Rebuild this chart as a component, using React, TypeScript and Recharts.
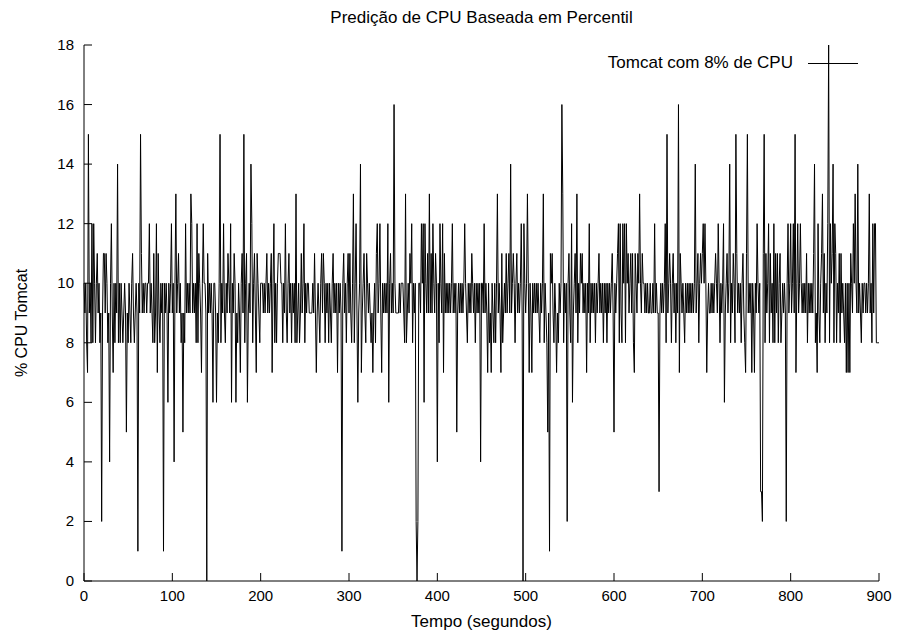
import { LineChart, Line, XAxis, YAxis } from 'recharts';

const W = 897;
const H = 636;
const PLOT = { left: 84, right: 879, top: 45, bottom: 581 };
const FONT = '"Liberation Sans", Arial, Helvetica, sans-serif';
const FS = 15;
const FS_LABEL = 17;
const TICK_LEN = 8;

const title = 'Predição de CPU Baseada em Percentil';
const xLabel = 'Tempo (segundos)';
const yLabel = '% CPU Tomcat';
const seriesName = 'Tomcat com 8% de CPU';

const xTicks = [0, 100, 200, 300, 400, 500, 600, 700, 800, 900];
const yTicks = [0, 2, 4, 6, 8, 10, 12, 14, 16, 18];

// one sample per second, t = 0 .. 900
const cpuTomcat = [
  10, 9, 10, 8, 7, 15, 9, 10, 8, 12, 8, 12, 10, 8, 10, 11, 9, 10, 8, 9,
  2, 9, 11, 11, 9, 11, 10, 8, 9, 4, 10, 12, 9, 7, 10, 8, 10, 9, 14, 8,
  10, 8, 10, 9, 8, 9, 10, 9, 5, 9, 8, 10, 9, 8, 10, 11, 9, 8, 9, 10,
  9, 1, 10, 9, 15, 11, 9, 10, 9, 10, 10, 9, 10, 10, 12, 9, 10, 9, 8, 11,
  8, 9, 12, 7, 11, 9, 8, 10, 9, 10, 1, 10, 9, 10, 9, 6, 10, 9, 10, 12,
  9, 10, 4, 10, 13, 9, 10, 11, 9, 10, 8, 9, 5, 9, 8, 12, 9, 10, 9, 10,
  9, 13, 12, 9, 10, 9, 10, 8, 12, 8, 11, 10, 9, 7, 10, 12, 10, 10, 9, 0,
  11, 9, 10, 9, 10, 9, 6, 10, 10, 9, 6, 9, 8, 10, 15, 8, 10, 9, 12, 9,
  8, 10, 9, 11, 10, 9, 12, 6, 10, 9, 11, 10, 6, 9, 8, 10, 9, 7, 10, 11,
  9, 15, 8, 10, 11, 6, 9, 10, 9, 14, 12, 8, 10, 11, 9, 7, 11, 10, 9, 8,
  10, 10, 10, 9, 10, 9, 10, 11, 9, 10, 9, 10, 11, 7, 10, 12, 8, 10, 8, 10,
  11, 11, 11, 10, 10, 8, 10, 9, 12, 9, 8, 10, 11, 9, 10, 8, 10, 9, 10, 8,
  13, 8, 9, 10, 8, 9, 11, 9, 10, 12, 8, 10, 9, 10, 10, 9, 9, 9, 9, 10,
  9, 11, 9, 7, 9, 10, 9, 8, 10, 11, 9, 11, 10, 8, 10, 9, 10, 8, 10, 9,
  8, 10, 11, 9, 10, 9, 10, 7, 10, 9, 10, 9, 1, 10, 11, 9, 10, 8, 10, 11,
  9, 11, 9, 8, 10, 13, 8, 10, 12, 9, 6, 9, 10, 14, 7, 9, 10, 11, 9, 8,
  11, 10, 9, 10, 9, 8, 9, 7, 9, 10, 8, 11, 12, 9, 10, 12, 9, 7, 10, 9,
  10, 9, 10, 9, 12, 6, 10, 11, 9, 10, 9, 16, 10, 9, 9, 9, 9, 10, 9, 10,
  10, 10, 9, 8, 13, 8, 9, 10, 9, 11, 10, 12, 8, 10, 9, 10, 2, 0, 2, 10,
  10, 9, 12, 10, 12, 6, 12, 10, 9, 11, 9, 13, 9, 11, 9, 12, 10, 9, 11, 10,
  4, 10, 8, 12, 10, 9, 12, 7, 11, 9, 10, 9, 10, 9, 10, 9, 10, 12, 9, 10,
  9, 10, 5, 9, 10, 9, 10, 9, 10, 9, 10, 12, 10, 9, 8, 10, 9, 10, 9, 11,
  10, 9, 10, 8, 10, 9, 10, 9, 10, 4, 10, 10, 9, 12, 9, 10, 9, 7, 10, 8,
  9, 7, 10, 9, 8, 10, 8, 10, 13, 9, 10, 9, 7, 11, 8, 9, 10, 9, 11, 9,
  10, 11, 9, 14, 9, 10, 11, 10, 8, 10, 11, 9, 10, 9, 10, 12, 9, 0, 12, 10,
  9, 10, 13, 10, 7, 10, 9, 7, 10, 9, 10, 9, 10, 9, 10, 9, 8, 10, 9, 10,
  13, 8, 10, 9, 8, 5, 9, 1, 11, 10, 11, 9, 8, 10, 9, 7, 9, 8, 10, 9,
  10, 16, 13, 8, 10, 9, 10, 2, 10, 11, 9, 8, 12, 6, 9, 10, 11, 9, 13, 8,
  10, 9, 11, 10, 11, 9, 10, 9, 10, 7, 10, 9, 12, 8, 10, 9, 10, 9, 10, 8,
  10, 9, 10, 11, 9, 10, 9, 10, 8, 10, 9, 10, 8, 10, 9, 10, 9, 10, 11, 9,
  5, 10, 9, 10, 11, 12, 8, 12, 9, 8, 12, 10, 12, 8, 12, 10, 11, 9, 10, 11,
  9, 11, 8, 7, 11, 10, 9, 11, 10, 13, 10, 9, 11, 10, 10, 9, 10, 9, 10, 9,
  9, 10, 9, 9, 10, 9, 12, 9, 10, 9, 9, 3, 9, 10, 9, 10, 9, 10, 12, 8,
  15, 9, 10, 11, 10, 8, 10, 11, 9, 10, 8, 10, 9, 16, 7, 11, 10, 9, 10, 9,
  8, 10, 9, 10, 9, 10, 9, 10, 9, 10, 9, 10, 14, 9, 10, 11, 8, 10, 11, 10,
  11, 12, 10, 12, 10, 7, 9, 10, 9, 9, 10, 9, 10, 9, 10, 11, 10, 9, 12, 10,
  8, 10, 9, 10, 12, 6, 9, 10, 11, 9, 10, 14, 8, 10, 9, 11, 10, 8, 15, 11,
  9, 10, 9, 10, 8, 10, 11, 9, 8, 7, 11, 15, 9, 10, 9, 10, 7, 10, 9, 7,
  10, 9, 12, 10, 9, 10, 3, 3, 2, 11, 15, 8, 11, 9, 10, 12, 8, 11, 9, 10,
  8, 12, 8, 11, 9, 11, 8, 10, 11, 8, 9, 10, 9, 10, 9, 2, 10, 12, 9, 10,
  12, 9, 10, 12, 9, 15, 7, 10, 12, 9, 10, 12, 10, 9, 10, 9, 10, 9, 11, 8,
  10, 9, 10, 9, 10, 9, 11, 14, 8, 9, 7, 12, 9, 8, 10, 11, 13, 9, 11, 8,
  10, 9, 12, 18, 8, 12, 10, 11, 14, 8, 12, 11, 8, 10, 9, 11, 8, 11, 9, 10,
  9, 8, 10, 7, 10, 7, 10, 7, 11, 10, 9, 12, 10, 13, 10, 9, 14, 9, 10, 9,
  8, 10, 9, 10, 10, 9, 10, 9, 10, 13, 9, 10, 8, 12, 9, 12, 12, 8, 8, 8,
  8,
];

const data = cpuTomcat.map((v, i) => ({ t: i, cpu: v }));

const textStyle = { fontFamily: FONT, fontSize: FS, fill: '#000' };

function BottomTick({ x, payload }: any) {
  return (
    <g>
      <line x1={x} x2={x} y1={PLOT.bottom} y2={PLOT.bottom - TICK_LEN} stroke="#000" />
      <text x={x} y={PLOT.bottom + 20} textAnchor="middle" {...textStyle}>
        {payload.value}
      </text>
    </g>
  );
}

function TopTick({ x }: any) {
  return <line x1={x} x2={x} y1={PLOT.top} y2={PLOT.top + TICK_LEN} stroke="#000" />;
}

function LeftTick({ y, payload }: any) {
  return (
    <g>
      <line x1={PLOT.left} x2={PLOT.left + TICK_LEN} y1={y} y2={y} stroke="#000" />
      <text x={PLOT.left - 10} y={y + 5} textAnchor="end" {...textStyle}>
        {payload.value}
      </text>
    </g>
  );
}

function RightTick({ y }: any) {
  return <line x1={PLOT.right} x2={PLOT.right - TICK_LEN} y1={y} y2={y} stroke="#000" />;
}

export default function App() {
  const plotW = PLOT.right - PLOT.left;
  const plotH = PLOT.bottom - PLOT.top;
  return (
    <div
      style={{
        position: 'absolute',
        left: 0,
        top: 0,
        width: W,
        height: H,
        background: '#fff',
        fontFamily: FONT,
        color: '#000',
      }}
    >
      <LineChart
        width={W}
        height={H}
        data={data}
        margin={{ top: PLOT.top, right: W - PLOT.right, bottom: H - PLOT.bottom - 30, left: PLOT.left - 40 }}
      >
        <XAxis
          dataKey="t"
          type="number"
          domain={[0, 900]}
          ticks={xTicks}
          interval={0}
          tick={(p: any) => <BottomTick {...p} />}
          tickLine={false}
          axisLine={{ stroke: '#000' }}
          height={30}
        />
        <XAxis
          xAxisId="top"
          orientation="top"
          dataKey="t"
          type="number"
          domain={[0, 900]}
          ticks={xTicks}
          interval={0}
          tick={(p: any) => <TopTick {...p} />}
          tickLine={false}
          axisLine={{ stroke: '#000' }}
          height={0}
        />
        <YAxis
          type="number"
          domain={[0, 18]}
          ticks={yTicks}
          interval={0}
          tick={(p: any) => <LeftTick {...p} />}
          tickLine={false}
          axisLine={{ stroke: '#000' }}
          width={40}
        />
        <YAxis
          yAxisId="right"
          orientation="right"
          type="number"
          domain={[0, 18]}
          ticks={yTicks}
          interval={0}
          tick={(p: any) => <RightTick {...p} />}
          tickLine={false}
          axisLine={{ stroke: '#000' }}
          width={0}
        />
        <Line
          type="linear"
          dataKey="cpu"
          name={seriesName}
          stroke="#000"
          strokeWidth={1}
          dot={false}
          activeDot={false}
          isAnimationActive={false}
        />
      </LineChart>

      <div
        style={{
          position: 'absolute',
          left: PLOT.left,
          width: plotW,
          top: 8,
          textAlign: 'center',
          fontSize: FS_LABEL,
          lineHeight: '20px',
        }}
      >
        {title}
      </div>

      <div
        style={{
          position: 'absolute',
          left: PLOT.left,
          width: plotW,
          top: 612,
          textAlign: 'center',
          fontSize: FS_LABEL,
          lineHeight: '20px',
        }}
      >
        {xLabel}
      </div>

      <div
        style={{
          position: 'absolute',
          left: 22 - 100,
          top: PLOT.top + plotH / 2,
          width: 200,
          textAlign: 'center',
          fontSize: 16,
          lineHeight: '20px',
          transform: 'rotate(-90deg)',
        }}
      >
        {yLabel}
      </div>

      <div
        style={{
          position: 'absolute',
          left: 400,
          width: 458,
          top: 53,
          height: 20,
          display: 'flex',
          justifyContent: 'flex-end',
          alignItems: 'center',
          fontSize: FS_LABEL,
        }}
      >
        <span>{seriesName}</span>
        <span style={{ display: 'inline-block', width: 50, marginLeft: 15, borderTop: '1px solid #000' }} />
      </div>
    </div>
  );
}
